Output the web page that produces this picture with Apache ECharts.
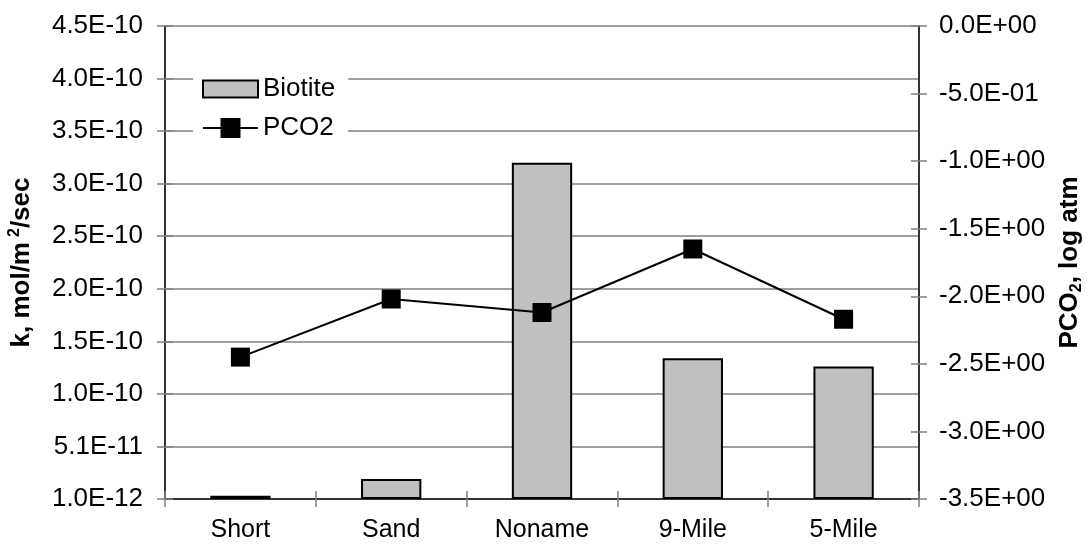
<!DOCTYPE html>
<html>
<head>
<meta charset="utf-8">
<script src="https://cdn.jsdelivr.net/npm/echarts@6/dist/echarts.min.js"></script>
<style>
  html, body { margin: 0; padding: 0; background: #ffffff; }
  #chart { width: 1087px; height: 548px; }
</style>
</head>
<body>
<div id="chart"></div>
<script>
// Sites along the stream and the two measured quantities
const sites = ['Short', 'Sand', 'Noname', '9-Mile', '5-Mile'];
const biotiteRate = [4e-12, 2.0e-11, 3.21e-10, 1.35e-10, 1.27e-10]; // k, mol/m2/sec
const pco2Log = [-2.45, -2.02, -2.12, -1.65, -2.17];                  // PCO2, log atm

// Left scale starts at 1.0E-12 and steps by 5E-11 (ticks 1.0E-12, 5.1E-11, 1.0E-10 ...)
const rateBase = 1e-12;
const rateSpan = 4.5e-10;
const rateStep = 5e-11;
// Right scale
const pcoMin = -3.5, pcoMax = 0, pcoStep = 0.5;

const FONT = '"Liberation Sans", Arial, sans-serif';

function sci(v) {
  if (Math.abs(v) < 1e-20) return '0.0E+00';
  const parts = v.toExponential(1).split('e');
  const n = parseInt(parts[1], 10);
  return parts[0] + 'E' + (n < 0 ? '-' : '+') + String(Math.abs(n)).padStart(2, '0');
}

const tickStyle = { color: '#808080', width: 1.5 };
const xLabelStyle = { color: '#000', fontFamily: FONT, fontSize: 25 };
const yLabelStyle = { color: '#000', fontFamily: FONT, fontSize: 26 };
const titleText = { fontFamily: FONT, fontSize: 26, fontWeight: 'bold', color: '#000', lineHeight: 30 };

const chart = echarts.init(document.getElementById('chart'), null, { renderer: 'canvas' });

chart.setOption({
  backgroundColor: '#ffffff',
  animation: false,
  grid: { left: 165, right: 168, top: 26, bottom: 49, containLabel: false, outerBoundsMode: 'none' },
  legend: [
    {
      data: [{ name: 'Biotite', icon: 'rect' }],
      left: 193, top: 62,
      orient: 'vertical',
      padding: [14, 13, 11, 9],
      backgroundColor: '#ffffff',
      itemWidth: 55, itemHeight: 17,
      textStyle: { color: '#000', fontFamily: FONT, fontSize: 26 }
    },
    {
      data: ['PCO2'],
      left: 193, top: 104,
      orient: 'vertical',
      padding: [11, 14, 8, 9],
      backgroundColor: '#ffffff',
      itemWidth: 55, itemHeight: 25,
      textStyle: { color: '#000', fontFamily: FONT, fontSize: 26 }
    }
  ],
  xAxis: [
    {
      type: 'category',
      data: sites,
      position: 'bottom',
      axisLine: { onZero: false, lineStyle: { color: '#333', width: 2 } },
      axisTick: { show: true, length: 8, lineStyle: tickStyle },
      axisLabel: Object.assign({ margin: 19, interval: 0 }, xLabelStyle),
      splitLine: { show: false }
    },
    {
      // inner half of the crossing ticks
      type: 'category',
      data: sites,
      position: 'bottom',
      axisLine: { show: false, onZero: false },
      axisTick: { show: true, inside: true, length: 8, lineStyle: tickStyle },
      axisLabel: { show: false },
      splitLine: { show: false }
    }
  ],
  yAxis: [
    {
      type: 'value',
      position: 'left',
      min: 0, max: rateSpan, interval: rateStep,
      name: '{t|k, mol/m}{sup|2}{t|/sec}',
      nameLocation: 'middle',
      nameGap: 128,
      nameTextStyle: {
        rich: {
          t: titleText,
          sup: { fontFamily: FONT, fontSize: 16, fontWeight: 'bold', color: '#000', verticalAlign: 'top', lineHeight: 30, padding: [0, 0, 0, 5] }
        }
      },
      axisLine: { show: true, onZero: false, lineStyle: { color: '#333', width: 2 } },
      axisTick: { show: true, length: 8, lineStyle: tickStyle },
      axisLabel: Object.assign({ margin: 22, formatter: v => sci(v + rateBase) }, yLabelStyle),
      splitLine: { show: true, lineStyle: { color: '#808080', width: 1.5 } }
    },
    {
      type: 'value',
      position: 'right',
      min: pcoMin, max: pcoMax, interval: pcoStep,
      name: '{t|PCO}{sub|2}{t|, log atm}',
      nameLocation: 'middle',
      nameGap: 136,
      nameRotate: 90,
      nameTextStyle: {
        rich: {
          t: titleText,
          sub: { fontFamily: FONT, fontSize: 16, fontWeight: 'bold', color: '#000', verticalAlign: 'bottom', lineHeight: 30 }
        }
      },
      axisLine: { show: true, onZero: false, lineStyle: { color: '#333', width: 2 } },
      axisTick: { show: true, length: 8, lineStyle: tickStyle },
      axisLabel: Object.assign({ margin: 20, formatter: v => sci(v) }, yLabelStyle),
      splitLine: { show: false }
    },
    {
      // inner half of the crossing ticks, right side
      type: 'value',
      position: 'right',
      min: pcoMin, max: pcoMax, interval: pcoStep,
      axisLine: { show: false, onZero: false },
      axisTick: { show: true, inside: true, length: 8, lineStyle: tickStyle },
      axisLabel: { show: false },
      splitLine: { show: false }
    },
    {
      // inner half of the crossing ticks, left side
      type: 'value',
      position: 'left',
      min: 0, max: rateSpan, interval: rateStep,
      axisLine: { show: false, onZero: false },
      axisTick: { show: true, inside: true, length: 8, lineStyle: tickStyle },
      axisLabel: { show: false },
      splitLine: { show: false }
    }
  ],
  series: [
    {
      name: 'Biotite',
      type: 'bar',
      xAxisIndex: 0,
      yAxisIndex: 0,
      barWidth: '40%',
      data: biotiteRate.map(v => v - rateBase),
      itemStyle: { color: '#c0c0c0', borderColor: '#000', borderWidth: 2 }
    },
    {
      name: 'PCO2',
      type: 'line',
      xAxisIndex: 0,
      yAxisIndex: 1,
      data: pco2Log,
      symbol: 'rect',
      symbolSize: 19,
      itemStyle: { color: '#000' },
      lineStyle: { color: '#000', width: 2 }
    }
  ]
});
</script>
</body>
</html>
